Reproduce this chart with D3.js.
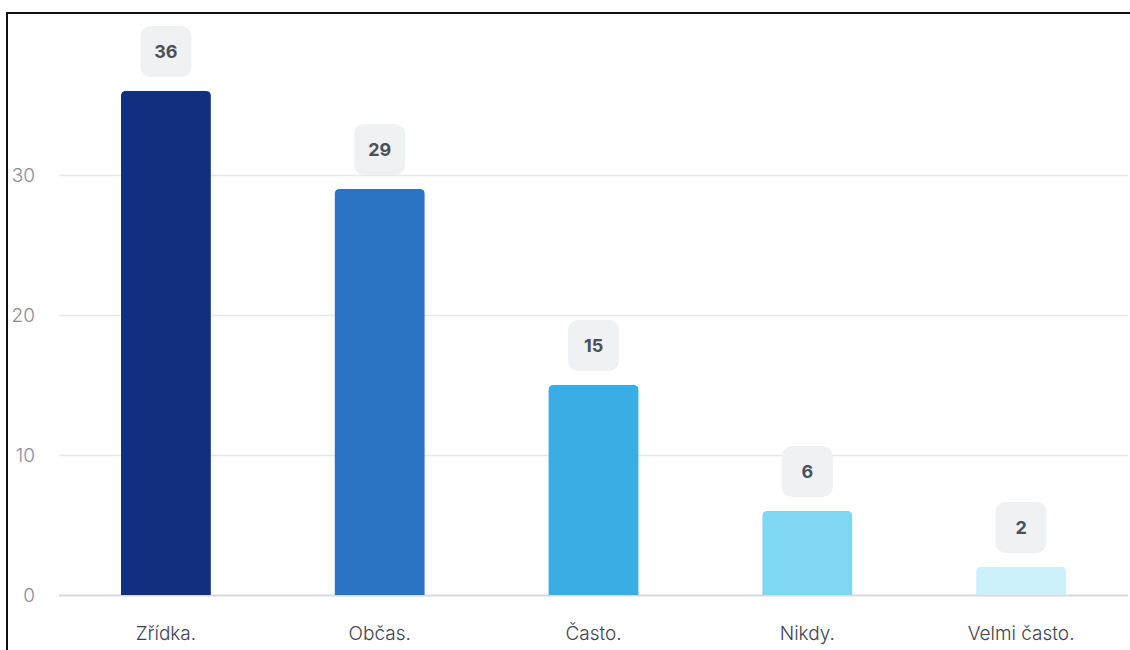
<!DOCTYPE html>
<html>
<head>
<meta charset="utf-8">
<script src="https://cdn.jsdelivr.net/npm/d3@7"></script>
<style>
  html, body { margin: 0; padding: 0; background: #fff; }
  svg { display: block; font-family: Inter, "Noto Sans", sans-serif; }
</style>
</head>
<body>
<svg id="chart" width="1130" height="650"></svg>
<script>
// Answer categories and counts
const categories = ["Zřídka.", "Občas.", "Často.", "Nikdy.", "Velmi často."];
const counts = [36, 29, 15, 6, 2];
const barColors = ["#112e80", "#2b73c3", "#3bade5", "#80d7f3", "#cdf1fa"];
const yTicks = [0, 10, 20, 30];

const svg = d3.select("#chart");
const W = 1130, H = 650;
const plot = { left: 59, right: 1128, top: 35, bottom: 595 };
const labelFont = "Inter, 'Noto Sans', sans-serif";

// outer frame
svg.append("rect")
  .attr("x", 7).attr("y", 13)
  .attr("width", W + 10).attr("height", H + 10)
  .attr("fill", "none").attr("stroke", "#111").attr("stroke-width", 2);

const x = d3.scaleBand()
  .domain(categories)
  .range([plot.left, plot.right])
  .paddingInner(0.58)
  .paddingOuter(0.29);

const y = d3.scaleLinear()
  .domain([0, 40])
  .range([plot.bottom, plot.top]);

// horizontal grid
const yAxis = d3.axisLeft(y)
  .tickValues(yTicks)
  .tickSize(-(plot.right - plot.left))
  .tickPadding(24)
  .tickFormat(d3.format("d"));

const gy = svg.append("g")
  .attr("transform", `translate(${plot.left},0)`)
  .call(yAxis);
gy.select(".domain").remove();
gy.selectAll(".tick line")
  .attr("stroke", d => d === 0 ? "#d3dae6" : "#e6e8ec")
  .attr("stroke-width", d => d === 0 ? 2 : 1.5);
gy.selectAll(".tick text")
  .attr("fill", "#8a8e96")
  .attr("font-size", 19)
  .attr("font-weight", 300)
  .attr("font-family", labelFont);

// bars with rounded top corners
const r = 5;
function topRounded(x0, y0, w, h) {
  const rr = Math.min(r, h, w / 2);
  return `M${x0},${y0 + h}V${y0 + rr}Q${x0},${y0} ${x0 + rr},${y0}` +
         `H${x0 + w - rr}Q${x0 + w},${y0} ${x0 + w},${y0 + rr}V${y0 + h}Z`;
}

const data = categories.map((c, i) => ({ c, v: counts[i], color: barColors[i] }));

svg.append("g").selectAll("path")
  .data(data)
  .join("path")
  .attr("d", d => topRounded(x(d.c), y(d.v), x.bandwidth(), y(0) - y(d.v)))
  .attr("fill", d => d.color);

// value badges above bars
const boxW = 51, boxH = 51, gap = 14;
const badges = svg.append("g").selectAll("g")
  .data(data)
  .join("g")
  .attr("transform", d => `translate(${x(d.c) + x.bandwidth() / 2},${y(d.v) - gap - boxH})`);

badges.append("rect")
  .attr("x", -boxW / 2).attr("y", 0)
  .attr("width", boxW).attr("height", boxH)
  .attr("rx", 10).attr("ry", 10)
  .attr("fill", "#f0f1f2");

badges.append("text")
  .attr("x", 0).attr("y", boxH / 2)
  .attr("dy", "0.36em")
  .attr("text-anchor", "middle")
  .attr("font-size", 18)
  .attr("font-weight", 700)
  .attr("fill", "#4b505b")
  .text(d => d.v);

// category labels
svg.append("g").selectAll("text")
  .data(data)
  .join("text")
  .attr("x", d => x(d.c) + x.bandwidth() / 2)
  .attr("y", 640)
  .attr("text-anchor", "middle")
  .attr("font-size", 19)
  .attr("font-weight", 300)
  .attr("font-family", labelFont)
  .attr("fill", "#3f434c")
  .text(d => d.c);
</script>
</body>
</html>
